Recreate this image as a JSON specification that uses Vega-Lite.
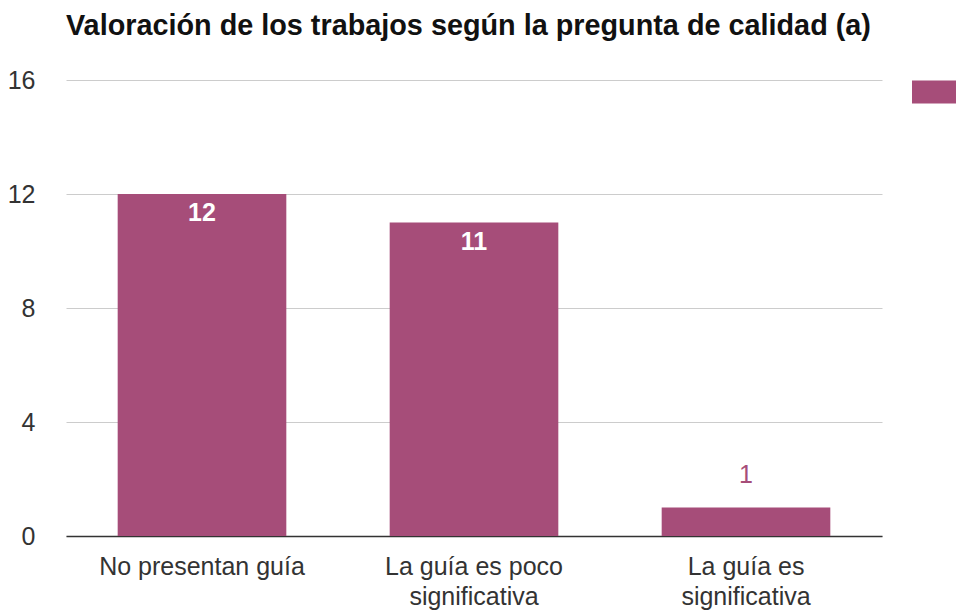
{
  "$schema": "https://vega.github.io/schema/vega-lite/v6.json",
  "width": 816,
  "height": 456,
  "autosize": {"type": "none"},
  "padding": {"left": 66, "top": 80, "right": 74, "bottom": 80},
  "background": "white",
  "config": {
    "font": "Liberation Sans",
    "view": {"stroke": null}
  },
  "title": {
    "text": "Valoración de los trabajos según la pregunta de calidad (a)",
    "anchor": "start",
    "frame": "group",
    "fontSize": 28.8,
    "fontWeight": "bold",
    "color": "#111111",
    "offset": 26,
    "font": "Liberation Sans"
  },
  "data": {
    "values": [
      {"categoria": "No presentan guía", "valor": 12, "serie": " "},
      {"categoria": "La guía es poco|significativa", "valor": 11, "serie": " "},
      {"categoria": "La guía es|significativa", "valor": 1, "serie": " "}
    ]
  },
  "encoding": {
    "x": {
      "field": "categoria",
      "type": "nominal",
      "sort": null,
      "scale": {"paddingInner": 0.38, "paddingOuter": 0.19},
      "axis": {
        "title": null,
        "labelAngle": 0,
        "labelExpr": "split(datum.value, '|')",
        "labelFontSize": 25,
        "labelColor": "#333333",
        "labelPadding": 18,
        "labelLineHeight": 30,
        "labelBaseline": "top",
        "labelLimit": 400,
        "labelOverlap": false,
        "ticks": false,
        "domainColor": "#333333",
        "domainWidth": 1.5,
        "grid": false
      }
    },
    "y": {
      "field": "valor",
      "type": "quantitative",
      "scale": {"domain": [0, 16]},
      "axis": {
        "title": null,
        "values": [0, 4, 8, 12, 16],
        "labelFontSize": 25,
        "labelColor": "#333333",
        "labelPadding": 31,
        "ticks": false,
        "domain": false,
        "gridColor": "#cccccc"
      }
    }
  },
  "layer": [
    {
      "mark": {"type": "bar", "color": "#a64d79"},
      "encoding": {
        "color": {
          "field": "serie",
          "type": "nominal",
          "scale": {"range": ["#a64d79"]},
          "legend": {
            "orient": "none",
            "legendX": 846,
            "legendY": -13,
            "title": null,
            "padding": 0,
            "symbolType": "M-1,-0.46H1V0.46H-1Z",
            "symbolSize": 2500,
            "symbolStrokeWidth": 0,
            "symbolOpacity": 1,
            "labelFontSize": 1
          }
        }
      }
    },
    {
      "transform": [{"filter": "datum.valor >= 5"}],
      "mark": {"type": "text", "baseline": "top", "dy": 7, "fontSize": 25, "fontWeight": "bold", "color": "#ffffff"},
      "encoding": {"text": {"field": "valor", "type": "quantitative"}}
    },
    {
      "transform": [{"filter": "datum.valor < 5"}],
      "mark": {"type": "text", "baseline": "alphabetic", "dy": -25, "fontSize": 25, "color": "#a64d79"},
      "encoding": {"text": {"field": "valor", "type": "quantitative"}}
    }
  ]
}
